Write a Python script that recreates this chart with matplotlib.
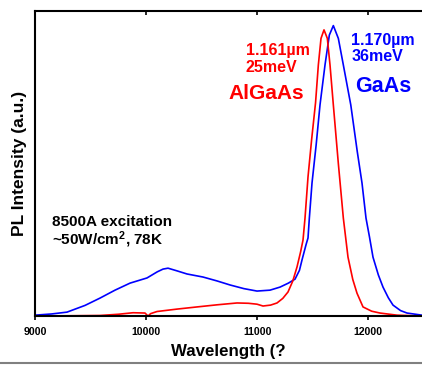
import matplotlib
matplotlib.use("Agg")
import matplotlib.pyplot as plt
from matplotlib.lines import Line2D

plt.rcParams['font.family'] = ['Liberation Sans', 'DejaVu Sans']
plt.rcParams['mathtext.default'] = 'regular'

# GaAs spectrum (blue)
gaas_wl = [9000, 9150, 9288, 9450, 9585, 9720, 9855, 10008, 10100, 10152,
           10197, 10280, 10368, 10512, 10640, 10755, 10880, 10998, 11115, 11205,
           11280, 11340, 11380, 11403, 11440, 11457, 11469, 11493, 11530, 11565,
           11610, 11649, 11685, 11730, 11775, 11842, 11900, 11943, 11979, 12010,
           12042, 12090, 12132, 12180, 12222, 12290, 12348, 12483]
gaas_pl = [0.003, 0.007, 0.013, 0.035, 0.059, 0.085, 0.108, 0.125, 0.145, 0.154,
           0.157, 0.148, 0.138, 0.128, 0.115, 0.102, 0.090, 0.082, 0.085, 0.095,
           0.108, 0.121, 0.150, 0.184, 0.235, 0.256, 0.321, 0.436, 0.560, 0.692,
           0.823, 0.921, 0.952, 0.910, 0.823, 0.692, 0.540, 0.436, 0.321, 0.260,
           0.193, 0.135, 0.095, 0.060, 0.036, 0.018, 0.010, 0.003]

# AlGaAs spectrum (red)
algaas_wl = [9000, 9300, 9585, 9750, 9882, 9990, 10017, 10040, 10098, 10280,
             10458, 10640, 10818, 10920, 10998, 11052, 11120, 11178, 11230, 11277,
             11320, 11358, 11390, 11412, 11430, 11457, 11490, 11525, 11550, 11574,
             11601, 11631, 11655, 11685, 11730, 11775, 11817, 11860, 11898, 11952,
             12030, 12105, 12258, 12483]
algaas_pl = [0.0, 0.001, 0.002, 0.006, 0.011, 0.010, 0.0, 0.008, 0.015, 0.023,
             0.030, 0.037, 0.043, 0.042, 0.039, 0.033, 0.036, 0.043, 0.058, 0.079,
             0.115, 0.161, 0.210, 0.249, 0.321, 0.456, 0.580, 0.700, 0.823, 0.910,
             0.938, 0.910, 0.823, 0.692, 0.500, 0.321, 0.193, 0.120, 0.075, 0.030,
             0.016, 0.010, 0.003, 0.0]

x_ticks = [9000, 10000, 11000, 12000]

fig = plt.figure(figsize=(4.22, 3.65), dpi=100)
ax = fig.add_axes([0.083, 0.134, 0.917, 0.836])

ax.plot(gaas_wl, gaas_pl, color='blue', lw=1.2)
ax.plot(algaas_wl, algaas_pl, color='red', lw=1.2)

ax.set_xlim(9000, 12483)
ax.set_ylim(0, 1)
ax.set_xticks(x_ticks)
ax.set_yticks([])
ax.tick_params(axis='x', direction='out', length=3, width=1.2, labelsize=7.6, pad=5)
for lbl in ax.get_xticklabels():
    lbl.set_fontweight('bold')
for s in ['left', 'bottom', 'top']:
    ax.spines[s].set_linewidth(1.5)
ax.spines['right'].set_visible(False)

top = ax.secondary_xaxis('top')
top.set_xticks(x_ticks)
top.tick_params(direction='in', length=3, width=1.2, labeltop=False)
top.spines['top'].set_visible(False)

ax.set_xlabel('Wavelength (?', fontsize=12.2, fontweight='bold', labelpad=5)
ax.set_ylabel('PL Intensity (a.u.)', fontsize=12.5, fontweight='bold', labelpad=6)

ax.text(0.045, 0.295, '8500A excitation', transform=ax.transAxes,
        fontsize=11, fontweight='bold')
ax.text(0.045, 0.233, '~50W/cm$^{2}$, 78K', transform=ax.transAxes,
        fontsize=11, fontweight='bold')

ax.text(0.545, 0.855, '1.161\u00b5m', transform=ax.transAxes,
        fontsize=11.5, fontweight='bold', color='red')
ax.text(0.545, 0.8, '25meV', transform=ax.transAxes,
        fontsize=11.5, fontweight='bold', color='red')
ax.text(0.5, 0.71, 'AlGaAs', transform=ax.transAxes,
        fontsize=15, fontweight='bold', color='red')

ax.text(0.817, 0.89, '1.170\u00b5m', transform=ax.transAxes,
        fontsize=11.5, fontweight='bold', color='blue')
ax.text(0.817, 0.836, '36meV', transform=ax.transAxes,
        fontsize=11.5, fontweight='bold', color='blue')
ax.text(0.827, 0.735, 'GaAs', transform=ax.transAxes,
        fontsize=15.5, fontweight='bold', color='blue')

fig.add_artist(Line2D([0, 1], [0.006, 0.006], color='gray', lw=1.5,
                      transform=fig.transFigure))

fig.savefig('out.png', dpi=100)
